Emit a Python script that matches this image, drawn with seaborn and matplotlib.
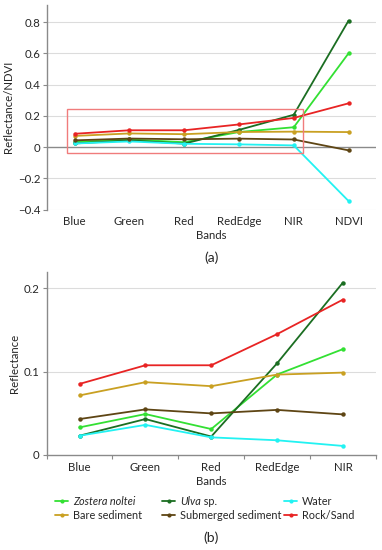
import matplotlib
matplotlib.use("Agg")
import matplotlib.pyplot as plt
import matplotlib.patches as mpatches
from matplotlib.lines import Line2D
import seaborn as sns
import pandas as pd

sns.set_style("white")
plt.rcParams['font.family'] = ['Lato', 'DejaVu Sans']

bands_a = ["Blue", "Green", "Red", "RedEdge", "NIR", "NDVI"]
bands_b = ["Blue", "Green", "Red", "RedEdge", "NIR"]
classes = ["Zostera noltei", "Ulva sp.", "Water", "Bare sediment", "Submerged sediment", "Rock/Sand"]
colors = ["#33e033", "#1b6e22", "#22f2f2", "#c9a022", "#5e4514", "#e82424"]

zostera = [0.033, 0.049, 0.031, 0.0965, 0.127]
ulva = [0.023, 0.043, 0.022, 0.110, 0.207]
water = [0.023, 0.036, 0.021, 0.0175, 0.0107]
bare = [0.0714, 0.0873, 0.0825, 0.0964, 0.0988]
submerged = [0.043, 0.0546, 0.0498, 0.054, 0.0486]
rock = [0.0852, 0.1076, 0.1076, 0.145, 0.1865]
ndvi = [0.60, 0.809, -0.345, 0.096, -0.021, 0.28]

series = [zostera, ulva, water, bare, submerged, rock]

rows_a, rows_b = [], []
for cls, vals, nd in zip(classes, series, ndvi):
    for b, v in zip(bands_b, vals):
        rows_b.append((cls, b, v))
        rows_a.append((cls, b, v))
    rows_a.append((cls, "NDVI", nd))
df_a = pd.DataFrame(rows_a, columns=["cls", "band", "value"])
df_b = pd.DataFrame(rows_b, columns=["cls", "band", "value"])
palette = dict(zip(classes, colors))

fig = plt.figure(figsize=(3.82, 5.5), dpi=100)
ax1 = fig.add_axes([0.124, 0.619, 0.86, 0.372])
ax2 = fig.add_axes([0.122, 0.173, 0.862, 0.333])

lw = 1.3
for ax, df in [(ax1, df_a), (ax2, df_b)]:
    sns.lineplot(data=df, x="band", y="value", hue="cls", hue_order=classes, palette=palette,
                 marker="o", markersize=3.2, markeredgewidth=0, linewidth=lw, sort=False,
                 legend=False, ax=ax, zorder=3)

grid_c = "#dcdcdc"
axis_c = "#8a8a8a"
fs = 8.2
lfs = 7.8

# Panel a
ax1.set_xlim(-0.5, 5.5)
ax1.set_ylim(-0.4, 0.91)
ax1.set_yticks([-0.4, -0.2, 0, 0.2, 0.4, 0.6, 0.8])
ax1.set_yticklabels(["\u22120.4", "\u22120.2", "0", "0.2", "0.4", "0.6", "0.8"])
for y in [-0.4, -0.2, 0.2, 0.4, 0.6, 0.8]:
    ax1.axhline(y, color=grid_c, lw=0.8, zorder=0)
ax1.axhline(0, color=axis_c, lw=1.0, zorder=1)
ax1.add_patch(mpatches.Rectangle((-0.15, -0.04), 4.31, 0.285, fill=False,
                                 edgecolor="#f07c7c", lw=1.0, zorder=4))
ax1.set_ylabel("Reflectance/NDVI", fontsize=fs, labelpad=3)
ax1.set_xlabel("Bands", fontsize=fs, labelpad=2)
ax1.text(0.5, -0.235, "(a)", transform=ax1.transAxes, ha="center", va="center", fontsize=10)

# Panel b
ax2.set_xlim(-0.5, 4.5)
ax2.set_ylim(0, 0.22)
ax2.set_yticks([0, 0.1, 0.2])
ax2.set_yticklabels(["0", "0.1", "0.2"])
for y in [0.1, 0.2]:
    ax2.axhline(y, color=grid_c, lw=0.8, zorder=0)
ax2.set_ylabel("Reflectance", fontsize=fs, labelpad=3)
ax2.set_xlabel("Bands", fontsize=fs, labelpad=2)
ax2.set_xticks([-0.5, 0.5, 1.5, 2.5, 3.5, 4.5], minor=True)
ax2.tick_params(axis="x", which="minor", length=3, width=0.8, color=axis_c, direction="out", bottom=True)
ax2.text(0.5, -0.45, "(b)", transform=ax2.transAxes, ha="center", va="center", fontsize=10)

for ax in (ax1, ax2):
    for s in ["top", "right"]:
        ax.spines[s].set_visible(False)
    ax.spines["left"].set_color(axis_c)
    ax.spines["left"].set_linewidth(1.0)
    ax.tick_params(axis="y", labelsize=fs, length=3, width=0.8, color=axis_c, left=True, pad=2)
    ax.tick_params(axis="x", which="major", labelsize=fs, length=0, pad=5)
ax1.spines["bottom"].set_visible(False)
ax2.spines["bottom"].set_color(axis_c)
ax2.spines["bottom"].set_linewidth(1.0)

# Legend: three columns, plain-text labels so that rows align
handles = [Line2D([0], [0], color=c, lw=lw, marker="o", markersize=3, markeredgewidth=0) for c in colors]
labels = ["Zostera noltei", "Ulva", "Water", "Bare sediment", "Submerged sediment", "Rock/Sand"]
col_x = [55 / 382, 162 / 382, 284 / 382]
legs = []
for j, (i1, i2) in enumerate([(0, 3), (1, 4), (2, 5)]):
    leg = fig.legend([handles[i1], handles[i2]], [labels[i1], labels[i2]],
                     loc="upper left", bbox_to_anchor=(col_x[j], 1 - 496 / 550), ncol=1, frameon=False,
                     fontsize=lfs, handlelength=1.2, handletextpad=0.45, borderpad=0,
                     borderaxespad=0, labelspacing=0.3)
    legs.append(leg)
legs[0].get_texts()[0].set_fontstyle("italic")
ulva_txt = legs[1].get_texts()[0]
ulva_txt.set_fontstyle("italic")

fig.canvas.draw()
bb = ulva_txt.get_window_extent().transformed(fig.transFigure.inverted())
fig.text(bb.x1, bb.y0, " sp.", fontsize=lfs, ha="left", va="bottom")

fig.savefig("out.png", dpi=100)
